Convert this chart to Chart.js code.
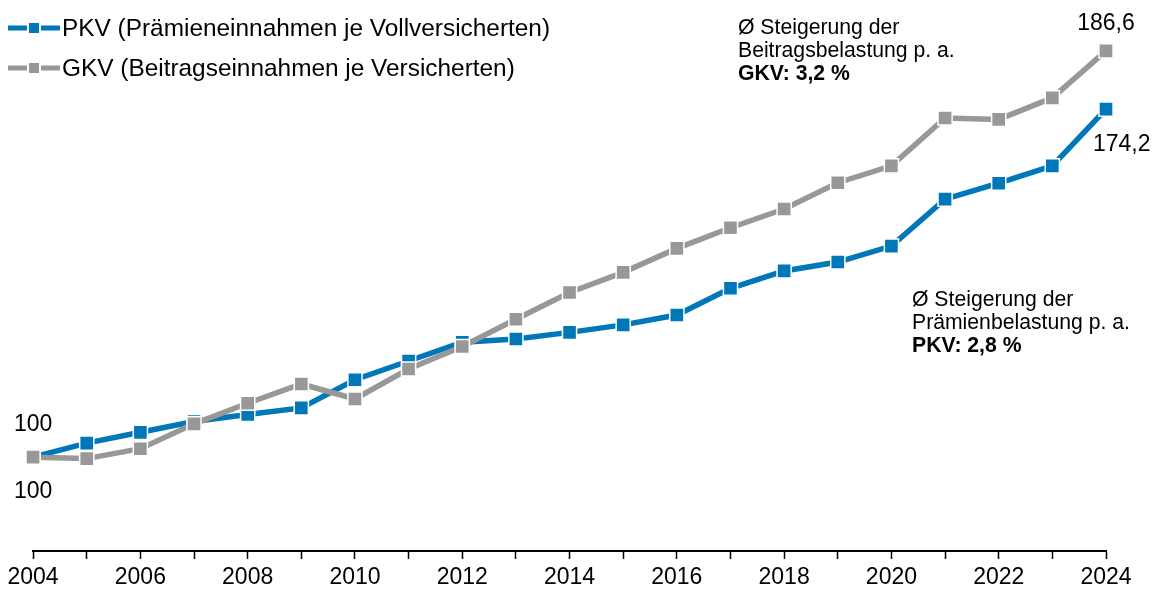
<!DOCTYPE html>
<html>
<head>
<meta charset="utf-8">
<script src="https://cdn.jsdelivr.net/npm/chart.js@4"></script>
<style>
  html, body { margin: 0; padding: 0; background: #fff; }
  #wrap { width: 1154px; height: 589px; position: relative; }
</style>
</head>
<body>
<div id="wrap"><canvas id="indexChart"></canvas></div>
<script>
// Index 2004 = 100
const years = ['2004', '2005', '2006', '2007', '2008', '2009', '2010', '2011', '2012', '2013', '2014',
  '2015', '2016', '2017', '2018', '2019', '2020', '2021', '2022', '2023', '2024'];

const pkvValues = [100, 103.0, 105.3, 107.6, 109.1, 110.5, 116.5, 120.5, 124.5, 125.2, 126.6,
  128.2, 130.3, 136.0, 139.7, 141.6, 145.0, 155.0, 158.4, 162.1, 174.2];

const gkvValues = [100, 99.7, 101.8, 107.1, 111.5, 115.6, 112.4, 118.8, 123.6, 129.4, 135.1,
  139.4, 144.5, 148.9, 152.9, 158.5, 162.1, 172.3, 172.0, 176.6, 186.6];

const seriesNames = ['PKV (Prämieneinnahmen je Vollversicherten)', 'GKV (Beitragseinnahmen je Versicherten)'];

const BLUE = '#0077b8';
const GRAY = '#989898';
const FONT = '"Liberation Sans", Arial, sans-serif';

const ctx = document.getElementById('indexChart').getContext('2d');

// legend + text notes drawn by hand
const notesPlugin = {
  id: 'notes',
  afterDraw(chart) {
    const c = chart.ctx;
    const x = chart.scales.x;
    const y = chart.scales.y;
    c.save();

    // legend
    [[BLUE, 28], [GRAY, 68]].forEach(([col, ly], i) => {
      c.strokeStyle = col;
      c.lineWidth = 5;
      c.beginPath();
      c.moveTo(8, ly);
      c.lineTo(60, ly);
      c.stroke();
      c.fillStyle = col;
      c.strokeStyle = '#fff';
      c.lineWidth = 2;
      c.fillRect(28, ly - 6, 12, 12);
      c.strokeRect(28, ly - 6, 12, 12);
      c.fillStyle = '#000';
      c.font = '24.4px ' + FONT;
      c.textBaseline = 'middle';
      c.textAlign = 'left';
      c.fillText(seriesNames[i], 62, ly + 1);
    });

    // value labels
    c.font = '23px ' + FONT;
    c.fillStyle = '#000';
    c.textAlign = 'center';
    const x0 = x.getPixelForValue(0);
    const y0 = y.getPixelForValue(100);
    c.fillText('100', x0, y0 - 33);
    c.fillText('100', x0, y0 + 34);
    const last = years.length - 1;
    const xl = x.getPixelForValue(last);
    c.fillText('186,6', xl, y.getPixelForValue(gkvValues[last]) - 27);
    c.textAlign = 'left';
    c.fillText('174,2', xl - 13, y.getPixelForValue(pkvValues[last]) + 36);

    // average growth notes
    const block = (lx, ly, lines) => {
      lines.forEach((t, i) => {
        c.font = (i === 2 ? 'bold ' : '') + '21.2px ' + FONT;
        c.fillText(t, lx, ly + i * 23);
      });
    };
    c.textAlign = 'left';
    block(738, 28, ['Ø Steigerung der', 'Beitragsbelastung p. a.', 'GKV: 3,2 %']);
    block(912, 300, ['Ø Steigerung der', 'Prämienbelastung p. a.', 'PKV: 2,8 %']);
    c.restore();
  }
};

const data = {
  labels: years,
  datasets: [{
    label: seriesNames[0],
    data: pkvValues,
    borderColor: BLUE,
    backgroundColor: BLUE,
    borderWidth: 5.5,
    pointStyle: 'rect',
    pointRadius: 10,
    pointBackgroundColor: BLUE,
    pointBorderColor: '#fff',
    pointBorderWidth: 1.5,
    tension: 0,
    order: 2
  }, {
    label: seriesNames[1],
    data: gkvValues,
    borderColor: GRAY,
    backgroundColor: GRAY,
    borderWidth: 5.5,
    pointStyle: 'rect',
    pointRadius: 10,
    pointBackgroundColor: GRAY,
    pointBorderColor: '#fff',
    pointBorderWidth: 1.5,
    tension: 0,
    order: 1
  }]
};

const config = {
  type: 'line',
  data: data,
  options: {
    responsive: true,
    maintainAspectRatio: false,
    animation: false,
    layout: { padding: { left: 32, right: 48, top: 10, bottom: 0 } },
    plugins: {
      legend: { display: false },
      tooltip: { enabled: false }
    },
    scales: {
      x: {
        afterFit: function(scale) {
          scale.height = 38;
        },
        grid: {
          drawOnChartArea: false,
          drawTicks: true,
          tickLength: 8,
          tickColor: '#000',
          tickWidth: 1.5
        },
        border: { display: true, color: '#000', width: 2 },
        ticks: {
          autoSkip: false,
          maxRotation: 0,
          padding: 7.5,
          color: '#000',
          font: { family: FONT, size: 23, lineHeight: 1.0 },
          callback: function(value, index) {
            return index % 2 === 0 ? years[index] : '';
          }
        }
      },
      y: {
        display: false,
        min: 80,
        max: 195
      }
    }
  },
  plugins: [notesPlugin]
};

const indexChart = new Chart(ctx, config);
</script>
</body>
</html>
